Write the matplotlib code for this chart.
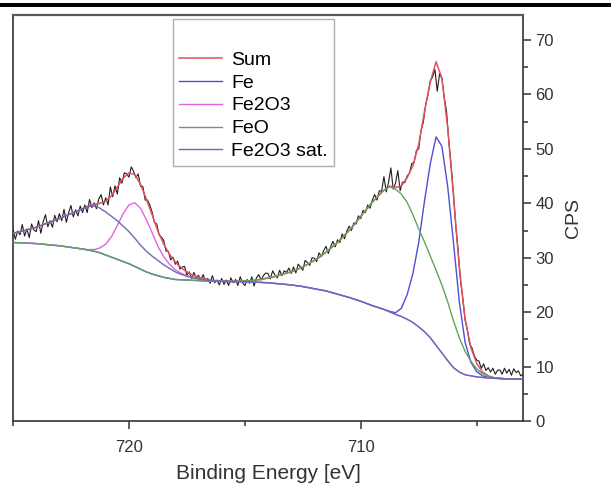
import numpy as np
import matplotlib
matplotlib.use("Agg")
import matplotlib.pyplot as plt
from matplotlib.ticker import MultipleLocator
from matplotlib.patches import Rectangle

plt.rcParams['font.family'] = ['Liberation Sans', 'DejaVu Sans']

# --- measured Fe 2p spectrum, 725.0 -> 703.0 eV, 0.1 eV steps ---
raw_counts = [
    35.3, 33.4, 34.9, 34.2, 36.1, 34.0, 35.3, 33.7, 36.2, 35.1,
    34.8, 36.8, 34.5, 36.6, 37.9, 35.7, 36.8, 35.6, 37.8, 36.6,
    38.1, 36.8, 38.9, 36.5, 38.3, 39.6, 37.5, 38.8, 37.7, 39.5,
    38.3, 39.7, 38.3, 40.7, 39.2, 40.1, 39.0, 40.8, 41.6, 39.7,
    41.0, 39.7, 43.0, 41.2, 43.2, 41.7, 44.7, 43.7, 45.6, 45.4,
    44.8, 46.7, 45.9, 44.7, 45.4, 43.1, 43.1, 40.6, 40.6, 39.7,
    38.4, 36.5, 36.2, 34.2, 33.8, 33.2, 31.2, 31.2, 29.6, 30.1,
    28.8, 29.4, 27.9, 28.3, 28.4, 26.8, 27.4, 26.2, 27.3, 26.3,
    26.8, 25.8, 26.9, 25.8, 26.2, 25.3, 26.7, 25.4, 25.9, 25.0,
    26.2, 25.1, 25.9, 24.9, 26.3, 25.4, 26.0, 24.9, 26.5, 25.4,
    24.9, 26.0, 25.3, 26.5, 24.8, 26.3, 26.9, 25.9, 26.7, 27.2,
    27.1, 26.1, 27.6, 26.8, 26.3, 27.7, 26.7, 27.6, 27.3, 28.1,
    27.1, 28.3, 27.2, 28.8, 28.3, 27.7, 29.5, 29.1, 28.6, 30.0,
    29.9, 29.3, 30.9, 30.2, 31.3, 32.1, 30.8, 32.0, 33.0, 32.0,
    33.3, 32.8, 34.4, 33.5, 34.9, 35.8, 35.0, 36.4, 36.2, 37.7,
    37.2, 38.7, 38.3, 39.7, 39.1, 40.6, 41.6, 40.6, 42.3, 42.2,
    44.9, 42.1, 43.9, 46.5, 42.6, 43.7, 46.0, 42.3, 43.9, 43.8,
    45.0, 45.5, 47.3, 47.5, 49.7, 50.0, 53.4, 54.9, 58.1, 59.9,
    62.5, 63.2, 64.6, 60.6, 63.8, 63.0, 59.5, 57.0, 51.4, 47.0,
    41.8, 35.7, 31.4, 25.9, 22.5, 18.6, 16.7, 14.1, 13.4, 12.0,
    11.2, 11.0, 9.7, 10.5, 9.3, 9.8, 9.0, 9.7, 8.6, 9.3,
    9.4, 8.6, 9.7, 8.8, 9.5, 8.4, 9.6, 8.9, 9.2, 8.3,
    8.6,
]

# --- fit, 725.0 -> 703.0 eV, 0.25 eV steps ---
# Shirley background
background = [
    32.8, 32.75, 32.7, 32.65, 32.6, 32.5, 32.4, 32.3,
    32.2, 32.05, 31.9, 31.75, 31.6, 31.4, 31.2, 30.9,
    30.5, 30.1, 29.7, 29.3, 28.9, 28.4, 27.9, 27.4,
    27.0, 26.7, 26.4, 26.2, 26.0, 25.95, 25.9, 25.85,
    25.8, 25.75, 25.7, 25.7, 25.7, 25.65, 25.6, 25.6,
    25.6, 25.55, 25.5, 25.45, 25.4, 25.3, 25.2, 25.1,
    25.0, 24.85, 24.7, 24.5, 24.3, 24.1, 23.9, 23.6,
    23.3, 23.0, 22.7, 22.35, 22.0, 21.6, 21.2, 20.85,
    20.5, 20.05, 19.6, 19.2, 18.7, 18.1, 17.3, 16.4,
    15.3, 13.9, 12.5, 11.1, 9.8, 9.0, 8.5, 8.3,
    8.1, 8.0, 7.9, 7.85, 7.8, 7.75, 7.7, 7.7,
    7.7,
]

# peak heights above the background
fe2o3_sat = [
    1.7, 2.0, 2.3, 2.65, 3.0, 3.5, 4.0, 4.5,
    5.0, 5.6, 6.2, 6.8, 7.4, 8.0, 8.3, 8.2,
    7.9, 7.5, 7.1, 6.5, 5.9, 5.2, 4.4, 3.8,
    3.3, 2.8, 2.3, 1.85, 1.4, 1.0, 0.7, 0.45,
    0.3, 0.2, 0.1, 0.05, 0, 0, 0, 0,
    0, 0, 0, 0, 0, 0, 0, 0,
    0, 0, 0, 0, 0, 0, 0, 0,
    0, 0, 0, 0, 0, 0, 0, 0,
    0, 0, 0, 0, 0, 0, 0, 0,
    0, 0, 0, 0, 0, 0, 0, 0,
    0, 0, 0, 0, 0, 0, 0, 0,
    0,
]

fe2o3 = [
    0, 0, 0, 0, 0, 0, 0, 0,
    0, 0, 0, 0, 0, 0.1, 0.3, 0.9,
    2.0, 3.8, 6.2, 8.8, 10.8, 11.7, 11.2, 9.6,
    7.6, 5.4, 3.8, 2.6, 1.8, 1.2, 0.8, 0.5,
    0.3, 0.2, 0.1, 0.05, 0, 0, 0, 0,
    0, 0, 0, 0, 0, 0, 0, 0,
    0, 0, 0, 0, 0, 0, 0, 0,
    0, 0, 0, 0, 0, 0, 0, 0,
    0, 0, 0, 0, 0, 0, 0, 0,
    0, 0, 0, 0, 0, 0, 0, 0,
    0, 0, 0, 0, 0, 0, 0, 0,
    0,
]

feo = [
    0, 0, 0, 0, 0, 0, 0, 0,
    0, 0, 0, 0, 0, 0, 0, 0,
    0, 0, 0, 0, 0, 0, 0, 0,
    0, 0, 0, 0, 0, 0, 0, 0,
    0, 0, 0, 0, 0, 0, 0.05, 0.1,
    0.15, 0.25, 0.4, 0.6, 0.9, 1.2, 1.6, 2.0,
    2.4, 3.0, 3.6, 4.4, 5.2, 6.1, 7.1, 8.3,
    9.5, 10.9, 12.3, 13.9, 15.6, 17.3, 19.0, 20.5,
    21.9, 23.0, 23.0, 22.5, 21.5, 19.8, 18.0, 16.5,
    15.0, 13.8, 12.5, 10.8, 8.6, 6.3, 4.3, 2.7,
    1.5, 0.7, 0.3, 0.1, 0.05, 0, 0, 0,
    0,
]

fe_metal = [
    0, 0, 0, 0, 0, 0, 0, 0,
    0, 0, 0, 0, 0, 0, 0, 0,
    0, 0, 0, 0, 0, 0, 0, 0,
    0, 0, 0, 0, 0, 0, 0, 0,
    0, 0, 0, 0, 0, 0, 0, 0,
    0, 0, 0, 0, 0, 0, 0, 0,
    0, 0, 0, 0, 0, 0, 0, 0,
    0, 0, 0, 0, 0, 0, 0, 0,
    0, 0.1, 0.3, 1.5, 4.5, 9.0, 15.5, 24.0,
    32.0, 38.3, 38.0, 32.0, 23.0, 13.0, 6.0, 2.5,
    1.0, 0.3, 0.1, 0, 0, 0, 0, 0,
    0,
]

raw_energy = np.linspace(725.0, 703.0, len(raw_counts))
fit_energy = np.linspace(725.0, 703.0, len(background))

bg = np.array(background)
comp_fe = bg + np.array(fe_metal)
comp_fe2o3 = bg + np.array(fe2o3)
comp_feo = bg + np.array(feo)
comp_sat = bg + np.array(fe2o3_sat)
fit_sum = bg + np.array(fe_metal) + np.array(fe2o3) + np.array(feo) + np.array(fe2o3_sat)

# colours
C_SUM = '#e2505e'
C_FE = '#4f4fd6'
C_FE2O3 = '#e066e0'
C_FEO = '#5fa55f'
C_SAT = '#6a6ab8'

fig = plt.figure(figsize=(6.11, 4.95), dpi=100)
ax = fig.add_axes([0.0213, 0.1495, 0.8347, 0.8202])

ax.plot(raw_energy, raw_counts, color='#1e1e1e', lw=0.8, zorder=2)
ax.plot(fit_energy, fit_sum, color=C_SUM, lw=1.1, zorder=3, label='Sum')
ax.plot(fit_energy, comp_fe, color=C_FE, lw=1.0, zorder=4, label='Fe')
ax.plot(fit_energy, comp_fe2o3, color=C_FE2O3, lw=1.0, zorder=4, label='Fe2O3')
ax.plot(fit_energy, comp_feo, color=C_FEO, lw=1.0, zorder=4, label='FeO')
ax.plot(fit_energy, comp_sat, color=C_SAT, lw=1.0, zorder=4, label='Fe2O3 sat.')

ax.set_xlim(725, 703)
ax.set_ylim(0, 74.6)

ax.xaxis.set_major_locator(MultipleLocator(10))
ax.xaxis.set_minor_locator(MultipleLocator(5))
ax.yaxis.set_major_locator(MultipleLocator(10))
ax.yaxis.set_minor_locator(MultipleLocator(5))
ax.yaxis.tick_right()
ax.yaxis.set_label_position('right')
ax.tick_params(axis='x', which='both', top=False, bottom=True, direction='out')
ax.tick_params(axis='y', which='both', left=False, right=True, direction='out')
ax.tick_params(which='major', length=6, width=1.1, color='#333333')
ax.tick_params(which='minor', length=3.5, width=1.1, color='#333333')
ax.tick_params(axis='x', labelsize=12, pad=8, labelcolor='#333333')
ax.tick_params(axis='y', labelsize=12, pad=3, labelcolor='#333333')

for side in ['left', 'right', 'bottom']:
    ax.spines[side].set_color('#333333')
    ax.spines[side].set_linewidth(1.2)
ax.spines['top'].set_color('#5a5a5a')
ax.spines['top'].set_linewidth(1.6)

ax.set_xlabel('Binding Energy [eV]', fontsize=15, color='#333333', labelpad=6)
ax.set_ylabel('CPS', fontsize=14, color='#333333', labelpad=8)

# legend keeps an empty strip on top, as in the original
leg = ax.legend(loc='upper left', bbox_to_anchor=(0.314, 0.99), borderaxespad=0,
                fontsize=14, title=' ', title_fontsize=16,
                frameon=True, fancybox=False, edgecolor='#9a9a9a',
                handlelength=2.2, handletextpad=0.5, labelspacing=0.27,
                borderpad=0.3)
leg.get_frame().set_linewidth(1.0)

# thick rule across the top of the page
fig.add_artist(Rectangle((0, (495 - 7) / 495), 1, 4 / 495, transform=fig.transFigure,
                         facecolor='black', edgecolor='none'))

fig.savefig('out.png', dpi=100)
